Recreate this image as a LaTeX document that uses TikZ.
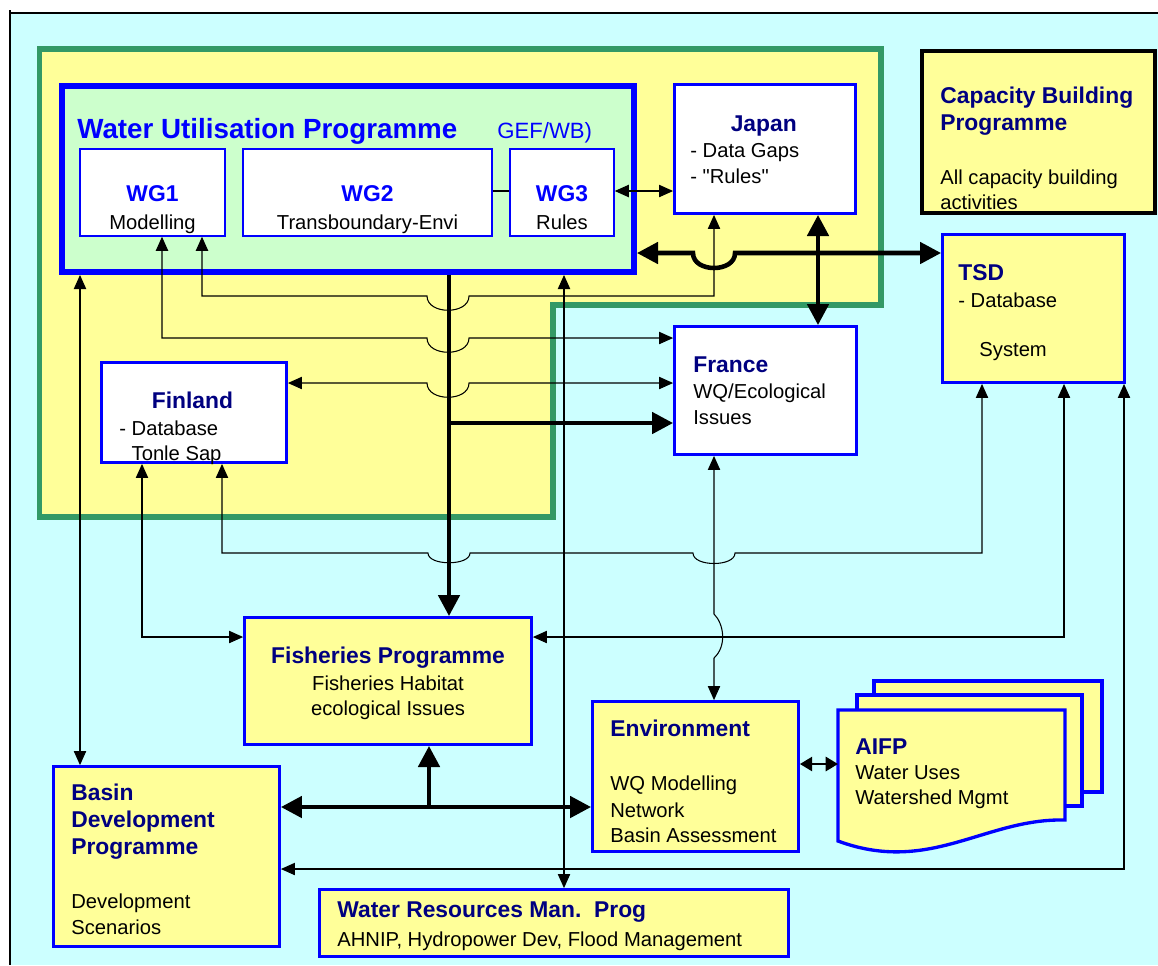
\documentclass[tikz,border=0pt]{standalone}
\usepackage{fontspec}
\setmainfont{Liberation Sans}
\newfontfamily\qtfont{Liberation Sans}
\usetikzlibrary{arrows.meta}

\definecolor{bgcyan}{RGB}{204,255,255}
\definecolor{paleyel}{RGB}{255,255,153}
\definecolor{palegrn}{RGB}{204,255,204}
\definecolor{frgreen}{RGB}{51,153,102}
\definecolor{hdblue}{RGB}{0,0,255}
\definecolor{hdnavy}{RGB}{0,0,128}

\newcommand{\bxhead}[1]{{\fontsize{13}{14.3}\selectfont\bfseries\color{hdnavy}#1}}
\newcommand{\wghead}[1]{{\fontsize{13}{14.3}\selectfont\bfseries\color{hdblue}#1}}

\begin{document}
\begin{tikzpicture}[x=0.02cm,y=-0.02cm,
    box/.style={draw=hdblue,line width=1.9pt,inner sep=0pt},
    ybox/.style={box,fill=paleyel},
    wbox/.style={box,fill=white},
    wgbox/.style={draw=hdblue,line width=0.85pt,fill=white,inner sep=0pt,minimum height=1.74cm},
    txt/.style={inner sep=0pt,font=\fontsize{11.5}{14.3}\selectfont},
    lnk/.style={line width=0.6pt,{Triangle[length=8pt,width=7pt]}-{Triangle[length=8pt,width=7pt]}},
    fat/.style={line width=2.6pt,{Triangle[length=12pt,width=12pt]}-{Triangle[length=12pt,width=12pt]}},
    fatend/.style={line width=2.6pt,-{Triangle[length=12pt,width=12pt]}}]
            \useasboundingbox (0,0) rectangle (1158,965);
            \fill[bgcyan] (10,13) rectangle (1158,965);
            \draw[line width=0.9pt] (10,13) -- (1158,13);
            \draw[line width=0.8pt] (10,10) -- (10,965);
            \filldraw[fill=paleyel,draw=frgreen,line width=3.4pt]
                (39.5,49) -- (881,49) -- (881,305) -- (553,305) -- (553,517) -- (39.5,517) -- cycle;

            \node[box,line width=3.4pt,fill=palegrn,minimum width=11.44cm,minimum height=3.72cm] (WUP) at (348,179) {};
            \node[wgbox,minimum width=2.9cm] (WG1) at (152.5,192.5) {};
            \node[wgbox,minimum width=4.98cm] (WG2) at (367.5,192.5) {};
            \node[wgbox,minimum width=2.08cm] (WG3) at (562,192.5) {};
            \node[wbox,minimum width=3.61cm,minimum height=2.57cm] (JAP) at (765,149) {};
            \node[draw=black,fill=paleyel,line width=2pt,inner sep=0pt,minimum width=4.67cm,minimum height=3.25cm] (CBP) at (1038.5,132) {};
            \node[ybox,minimum width=3.63cm,minimum height=2.95cm] (TSD) at (1033.5,308.5) {};
            \node[wbox,minimum width=3.63cm,minimum height=2.55cm] (FRA) at (765.5,390.5) {};
            \node[wbox,minimum width=3.69cm,minimum height=1.99cm] (FIN) at (194,412.5) {};
            \node[ybox,minimum width=5.73cm,minimum height=2.53cm] (FSH) at (388,681) {};
            \node[ybox,minimum width=4.11cm,minimum height=2.99cm] (ENV) at (695.5,776.5) {};
            \node[ybox,minimum width=4.51cm,minimum height=3.59cm] (BDP) at (166.5,856.5) {};
            \node[ybox,minimum width=9.37cm,minimum height=1.33cm] (WRM) at (554,923) {};

            \filldraw[fill=paleyel,draw=hdblue,line width=1.9pt] (874,681) rectangle (1102,792);
            \filldraw[fill=paleyel,draw=hdblue,line width=1.9pt] (857,695) rectangle (1082,806);
            \filldraw[fill=paleyel,draw=hdblue,line width=1.9pt]
                (838,710) -- (1065,710) -- (1065,820) .. controls (985,818) and (930,875) .. (838,841) -- cycle;
            \coordinate (AIFP) at (838,764);
            \coordinate (J1) at (449,423);
            \coordinate (J2) at (429,807);

            \draw[lnk] (WG1.south -| 202,0) -- (202,296) -- (427,296)
                .. controls (427,315) and (469,315) .. (469,296) -- (714,296) -- (JAP.south -| 714,0);
            \draw[lnk] (WG1.south -| 162,0) -- (162,338) -- (427,338)
                .. controls (427,357) and (469,357) .. (469,338) -- (FRA.west |- 0,338);
            \draw[lnk] (FIN.east |- 0,383) -- (427,383)
                .. controls (427,402) and (469,402) .. (469,383) -- (FRA.west |- 0,383);
            \draw[lnk] (FIN.south -| 222,0) -- (222,553) -- (428,553)
                .. controls (428,566) and (470,566) .. (470,553) -- (693,553)
                .. controls (693,567) and (735,567) .. (735,553) -- (982,553) -- (TSD.south -| 982,0);
            \draw[lnk] (FIN.south -| 142,0) -- (142,637) -- (FSH.west |- 0,637);
            \draw[lnk] (FSH.east |- 0,637) -- (1064,637) -- (TSD.south -| 1064,0);
            \draw[lnk] (TSD.south -| 1124,0) -- (1124,869) -- (BDP.east |- 0,869);
            \draw[lnk] (WUP.south -| 564,0) -- (WRM.north -| 564,0);
            \draw[lnk] (WUP.south -| 80,0) -- (BDP.north -| 80,0);
            \draw[lnk] (FRA.south -| 714,0) -- (714,614)
                .. controls (724,624) and (727,646) .. (714,658) -- (ENV.north -| 714,0);
            \draw[lnk] (WG3.east |- 0,191) -- (JAP.west |- 0,191);
            \draw[line width=0.6pt] (WG2.east |- 0,191) -- (WG3.west |- 0,191);

            \draw[fatend] (WUP.south -| J1) -- (FSH.north -| J1);
            \draw[fatend] (J1) -- (FRA.west |- J1);
            \draw[fat] (WUP.east |- 0,253) -- (693,253)
                .. controls (693,273) and (735,273) .. (735,253) -- (TSD.west |- 0,253);
            \draw[fat] (JAP.south -| 818,0) -- (FRA.north -| 818,0);
            \draw[fat] (BDP.east |- J2) -- (ENV.west |- J2);
            \draw[fatend] (J2) -- (FSH.south -| J2);
            \draw[line width=1.5pt,{Triangle[length=7pt,width=8pt]}-{Triangle[length=7pt,width=8pt]}] (ENV.east |- AIFP) -- (AIFP);

            \node[anchor=base west,inner sep=0pt,text=hdblue,font=\fontsize{15.8}{18}\selectfont\bfseries] (WUPt) at (77,138) {Water Utilisation Programme};
            \node[anchor=base west,inner sep=0pt,text=hdblue,font=\fontsize{12.6}{15}\selectfont] (GEFt) at (497,138) {GEF/WB)};
            \node[txt,align=center,anchor=north] (WG1t) at (152.5,185) {\wghead{WG1}\\[1.5pt]Modelling};
            \node[txt,align=center,anchor=north] (WG2t) at (367.5,185) {\wghead{WG2}\\[1.5pt]Transboundary-Envi};
            \node[txt,align=center,anchor=north] (WG3t) at (562,185) {\wghead{WG3}\\[1.5pt]Rules};
            \node[txt,align=left,anchor=north west] (JAPt) at (690,115) {\hspace*{23pt}\bxhead{Japan}\\[1pt]- Data Gaps\\- {\qtfont"Rules"}};
            \node[txt,align=left,anchor=north west] (CBPt) at (940,87) {\bxhead{Capacity Building}\\[1pt]\bxhead{Programme}\\[16.4pt]All capacity building\\activities};
            \node[txt,align=left,anchor=north west] (TSDt) at (958,264) {\bxhead{TSD}\\[1pt]- Database\\[13.6pt]\hspace*{12pt}System};
            \node[txt,align=left,anchor=north west] (FRAt) at (693,356) {\bxhead{France}\\[1pt]WQ/Ecological\\Issues};
            \node[txt,align=left,anchor=north west] (FINt) at (119,392) {\hspace*{18.5pt}\bxhead{Finland}\\[1pt]- Database\\\hspace*{7pt}Tonle Sap};
            \node[txt,align=center,anchor=north] (FSHt) at (388,647) {\bxhead{Fisheries Programme}\\[1pt]Fisheries Habitat\\ecological Issues};
            \node[txt,align=left,anchor=north west] (ENVt) at (610,720) {\bxhead{Environment}\\[16.4pt]WQ Modelling\\[1pt]Network\\Basin Assessment};
            \node[txt,align=left,anchor=north west] (AIFPt) at (855,738) {\bxhead{AIFP}\\Water Uses\\Watershed Mgmt};
            \node[txt,align=left,anchor=north west] (BDPt) at (71,784) {\bxhead{Basin}\\[1pt]\bxhead{Development}\\[1pt]\bxhead{Programme}\\[16.4pt]Development\\[0.5pt]Scenarios};
            \node[txt,align=left,anchor=north west] (WRMt) at (337,901) {\bxhead{Water Resources Man.\ \ Prog}\\[2.2pt]AHNIP, Hydropower Dev, Flood Management};
            \end{tikzpicture}
\end{document}
